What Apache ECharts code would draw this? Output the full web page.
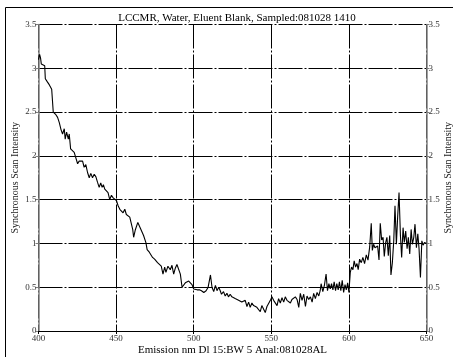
<!DOCTYPE html>
<html>
<head>
<meta charset="utf-8">
<script src="https://cdn.jsdelivr.net/npm/echarts@6/dist/echarts.min.js"></script>
<style>
html,body{margin:0;padding:0;background:#fff;}
#chart{width:453px;height:357px;}
</style>
</head>
<body>
<div id="chart"></div>
<script>
const titleText = "LCCMR, Water, Eluent Blank, Sampled:081028 1410";
const xAxisName = "Emission nm Dl 15:BW 5 Anal:081028AL";
const yAxisName = "Synchronous Scan Intensity";

const wavelengths = [
400.0,400.7,401.3,401.8,403.0,404.0,404.4,405.5,407.0,408.5,409.1,409.5,410.4,411.2,412.3,413.4,414.5,415.5,416.6,417.2,
418.1,419.2,419.8,420.7,421.9,423.0,424.1,425.2,426.2,427.3,428.4,429.4,430.5,431.6,432.7,433.7,434.8,435.9,437.0,438.0,
439.1,440.1,441.0,441.8,442.7,443.8,444.8,445.9,447.0,448.1,449.1,450.2,451.3,452.4,453.4,454.5,455.6,456.6,457.6,458.8,
459.5,460.7,461.3,462.3,464.0,465.5,466.6,467.7,469.2,470.0,471.4,472.6,473.5,474.8,475.8,476.7,477.8,479.1,480.2,481.3,
482.1,483.4,484.9,486.0,487.1,488.2,489.2,490.3,491.4,492.5,493.5,494.6,495.7,496.8,497.8,498.9,500.0,501.1,502.2,503.7,
505.0,506.5,508.0,509.3,510.8,511.8,512.9,514.0,515.0,516.1,517.1,517.9,519.2,520.3,521.4,522.4,523.5,524.6,525.7,526.7,
527.8,528.9,530.0,531.0,532.1,533.2,534.3,535.4,536.4,537.5,538.6,539.7,540.7,541.8,542.9,543.9,545.0,546.1,547.2,548.3,
549.4,550.4,551.5,552.6,553.7,554.7,555.8,556.9,558.0,559.0,560.1,561.2,562.3,563.3,564.4,565.5,566.6,567.7,568.7,569.8,
570.9,572.0,573.0,574.1,575.2,576.3,577.3,578.4,579.5,580.6,581.5,582.1,583.2,584.2,585.3,586.2,587.1,588.0,588.8,589.7,
590.5,591.4,592.2,593.1,593.9,594.8,595.7,596.6,597.5,598.3,599.2,600.0,600.9,601.7,602.6,603.4,604.3,605.2,606.0,606.9,
608.0,609.0,610.1,611.2,612.3,613.4,614.4,615.1,615.9,616.8,617.7,618.5,619.4,620.2,621.1,622.0,622.8,623.7,624.5,625.4,
626.3,627.1,628.0,628.9,629.7,630.6,631.4,632.3,633.2,634.0,634.9,635.7,636.6,637.5,638.3,639.2,640.1,640.9,641.8,642.6,
643.5,644.4,645.2,646.1,647.0,647.8,648.7,649.5,650.0
];

const intensities = [
3.10,3.16,3.12,3.05,3.03,3.03,2.88,2.85,2.81,2.76,2.74,2.50,2.51,2.47,2.44,2.38,2.30,2.25,2.31,2.19,
2.27,2.19,2.25,2.08,2.09,2.04,2.02,1.91,1.94,1.92,1.94,1.87,1.90,1.81,1.75,1.80,1.75,1.79,1.76,1.70,
1.64,1.69,1.64,1.67,1.62,1.64,1.58,1.50,1.55,1.52,1.50,1.49,1.43,1.39,1.41,1.35,1.39,1.33,1.34,1.30,
1.29,1.16,1.07,1.15,1.24,1.18,1.16,1.09,1.01,0.93,0.90,0.91,0.84,0.82,0.82,0.78,0.80,0.74,0.65,0.73,
0.67,0.74,0.70,0.75,0.65,0.72,0.76,0.78,0.65,0.50,0.52,0.55,0.54,0.57,0.59,0.53,0.48,0.50,0.47,0.47,
0.46,0.44,0.46,0.50,0.64,0.50,0.45,0.52,0.46,0.50,0.46,0.42,0.45,0.40,0.43,0.39,0.42,0.39,0.40,0.37,
0.39,0.35,0.37,0.33,0.31,0.35,0.28,0.33,0.27,0.32,0.29,0.31,0.27,0.29,0.22,0.29,0.27,0.21,0.28,0.30,
0.35,0.39,0.35,0.37,0.29,0.37,0.32,0.38,0.33,0.39,0.35,0.37,0.32,0.36,0.34,0.39,0.36,0.27,0.43,0.35,
0.42,0.28,0.40,0.36,0.39,0.33,0.43,0.37,0.44,0.40,0.46,0.54,0.45,0.52,0.65,0.46,0.54,0.48,0.54,0.47,
0.56,0.46,0.54,0.47,0.56,0.46,0.58,0.44,0.53,0.47,0.55,0.44,0.67,0.73,0.70,0.80,0.73,0.77,0.70,0.82,
0.78,0.84,0.77,0.87,0.81,0.96,1.23,0.92,0.99,0.95,0.94,0.97,0.81,1.23,1.04,1.07,0.85,1.01,1.07,0.86,
1.09,0.64,0.78,1.03,1.43,0.99,1.30,1.58,1.09,0.84,1.18,1.01,1.14,0.94,1.07,0.88,1.16,0.99,1.07,1.22,
0.95,1.11,0.94,0.61,1.03,0.98,1.01,0.99,1.00
];

const xMin = 400, xMax = 650, xStep = 50;
const yMin = 0, yMax = 3.5, yStep = 0.5;

const FONT = "Liberation Serif";
const chart = echarts.init(document.getElementById('chart'), null, {renderer: 'canvas'});
const dash = [24, 2, 2, 2];

const yAxisCommon = {
  type: 'value', min: yMin, max: yMax, interval: yStep,
  name: yAxisName, nameLocation: 'middle', nameRotate: 90, nameMoveOverlap: false,
  nameTextStyle: {fontFamily: FONT, fontSize: 10, color: '#222'},
  axisLine: {show: true, lineStyle: {color: '#808080', width: 1.5}},
  axisTick: {show: true, length: 3, lineStyle: {color: '#808080'}},
  axisLabel: {fontFamily: FONT, fontSize: 9, color: '#333', margin: 2}
};

chart.setOption({
  animation: false,
  backgroundColor: '#fff',
  title: {
    text: titleText, left: 232, textAlign: 'center', top: 8,
    textStyle: {fontFamily: FONT, fontSize: 11, fontWeight: 'normal', color: '#000'}
  },
  grid: {left: 38.5, right: 26.5, top: 24.5, bottom: 26, outerBoundsMode: 'none', containLabel: false},
  xAxis: [{
    type: 'value', min: xMin, max: xMax, interval: xStep, position: 'bottom',
    name: xAxisName, nameLocation: 'middle', nameGap: 14, nameMoveOverlap: false,
    nameTextStyle: {fontFamily: FONT, fontSize: 11, color: '#000'},
    axisLine: {lineStyle: {color: '#000', width: 1}},
    axisTick: {show: true, length: 3, lineStyle: {color: '#000'}},
    axisLabel: {fontFamily: FONT, fontSize: 9, color: '#333', margin: 3},
    splitLine: {show: true, lineStyle: {color: '#000', width: 1, type: dash}}
  }, {
    type: 'value', min: xMin, max: xMax, interval: xStep, position: 'top',
    axisLine: {show: true, lineStyle: {color: '#000', width: 1}},
    axisTick: {show: false}, axisLabel: {show: false}, splitLine: {show: false}
  }],
  yAxis: [
    Object.assign({}, yAxisCommon, {position: 'left', nameGap: 18,
      splitLine: {show: true, lineStyle: {color: '#000', width: 1, type: dash}}}),
    Object.assign({}, yAxisCommon, {position: 'right', nameGap: 17, splitLine: {show: false}})
  ],
  graphic: [{
    type: 'rect', silent: true, z: 100,
    shape: {x: 5.5, y: 7.5, width: 460, height: 360},
    style: {fill: 'none', stroke: '#000', lineWidth: 1}
  }],
  series: [{
    type: 'line', xAxisIndex: 0, yAxisIndex: 0,
    data: wavelengths.map((w, i) => [w, intensities[i]]),
    showSymbol: false, symbol: 'none',
    lineStyle: {color: '#000', width: 1.1}
  }]
});
</script>
</body>
</html>
